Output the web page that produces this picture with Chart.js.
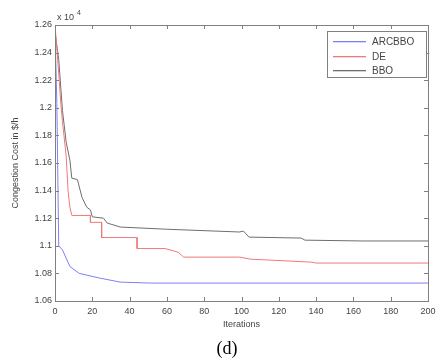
<!DOCTYPE html>
<html>
<head>
<meta charset="utf-8">
<script src="https://cdn.jsdelivr.net/npm/chart.js@4/dist/chart.umd.min.js"></script>
<style>
  html, body { margin: 0; padding: 0; background: #fff; }
  canvas { display: block; }
</style>
</head>
<body>
<canvas id="costChart" width="441" height="364"></canvas>
<script>
// values, cost in units of 10^4 $/h
const arcIter = [0, 1, 2, 4, 8, 13, 24, 35, 51, 200];
const arcCost = [1.255, 1.203, 1.100, 1.097, 1.085, 1.080, 1.0766, 1.0737, 1.073, 1.073];

const deIter = [0, 2, 3, 4, 6, 7, 8, 9, 19, 19, 25, 25, 44, 44, 59, 66, 69, 99, 105, 137, 140, 200];
const deCost = [1.26, 1.225, 1.205, 1.19, 1.165, 1.14, 1.128, 1.122, 1.122, 1.117, 1.117, 1.106, 1.106, 1.098, 1.098, 1.0954, 1.0918, 1.0918, 1.0903, 1.0882, 1.0875, 1.0875];

const bboIter = [0, 2, 4, 6, 8, 9, 12, 14.5, 17, 19, 20, 26, 28, 35, 60, 99, 101, 104, 132, 134, 165, 200];
const bboCost = [1.255, 1.235, 1.198, 1.175, 1.162, 1.149, 1.148, 1.135, 1.128, 1.126, 1.121, 1.120, 1.1165, 1.1136, 1.112, 1.110, 1.1107, 1.1063, 1.1056, 1.1041, 1.1035, 1.1035];

const seriesNames = ['ARCBBO', 'DE', 'BBO'];
const seriesColors = ['#7f7ff0', '#ee7a7a', '#6e6e6e'];

function toPoints(xs, ys) {
    return xs.map((x, i) => ({ x: x, y: ys[i] }));
}

const axisColor = '#808080';
const labelColor = '#444';

// box, inward ticks, legend and extra texts, MATLAB style
const matlabFrame = {
    id: 'matlabFrame',
    afterDraw(chart) {
        const ctx = chart.ctx;
        const area = chart.chartArea;
        const xs = chart.scales.x;
        const ys = chart.scales.y;
        ctx.save();
        ctx.strokeStyle = axisColor;
        ctx.lineWidth = 1;
        ctx.strokeRect(Math.round(area.left) + 0.5, Math.round(area.top) + 0.5,
            Math.round(area.right - area.left), Math.round(area.bottom - area.top));

        const tl = 4;
        ctx.beginPath();
        xs.ticks.forEach(t => {
            const px = Math.round(xs.getPixelForValue(t.value)) + 0.5;
            ctx.moveTo(px, area.bottom); ctx.lineTo(px, area.bottom - tl);
            ctx.moveTo(px, area.top); ctx.lineTo(px, area.top + tl);
        });
        ys.ticks.forEach(t => {
            const py = Math.round(ys.getPixelForValue(t.value)) + 0.5;
            ctx.moveTo(area.left, py); ctx.lineTo(area.left + tl, py);
            ctx.moveTo(area.right, py); ctx.lineTo(area.right - tl, py);
        });
        ctx.stroke();

        // exponent note
        ctx.fillStyle = labelColor;
        ctx.font = '9px Arial, "Liberation Sans", sans-serif';
        ctx.textAlign = 'left';
        ctx.textBaseline = 'alphabetic';
        ctx.fillText('x 10', area.left + 2, area.top - 5);
        ctx.font = '7px Arial, "Liberation Sans", sans-serif';
        ctx.fillText('4', area.left + 22, area.top - 10);

        // axis titles
        ctx.font = '9px Arial, "Liberation Sans", sans-serif';
        ctx.textAlign = 'center';
        ctx.textBaseline = 'middle';
        ctx.fillText('Iterations', (area.left + area.right) / 2, 325);
        ctx.save();
        ctx.translate(16, (area.top + area.bottom) / 2);
        ctx.rotate(-Math.PI / 2);
        ctx.fillText('Congestion Cost in $/h', 0, 0);
        ctx.restore();

        // panel label
        ctx.fillStyle = '#000';
        ctx.font = '18px "Liberation Serif", "DejaVu Serif", serif';
        ctx.fillText('(d)', 227, 349);

        // legend box
        const lx = 327, ly = 31, lw = 99, lh = 46;
        ctx.fillStyle = '#fff';
        ctx.fillRect(lx, ly, lw, lh);
        ctx.strokeStyle = axisColor;
        ctx.strokeRect(lx + 0.5, ly + 0.5, lw, lh);
        ctx.font = '10px Arial, "Liberation Sans", sans-serif';
        ctx.textAlign = 'left';
        seriesNames.forEach((name, i) => {
            const rowY = Math.round(ly + 10 + i * 14.5);
            ctx.fillStyle = seriesColors[i];
            ctx.fillRect(333, rowY, 33, 1.3);
            ctx.fillStyle = labelColor;
            ctx.fillText(name, 372, rowY + 1);
        });
        ctx.restore();
    }
};

const ctx = document.getElementById('costChart').getContext('2d');
new Chart(ctx, {
    type: 'line',
    data: {
        datasets: [
            { label: seriesNames[0], data: toPoints(arcIter, arcCost), borderColor: seriesColors[0] },
            { label: seriesNames[1], data: toPoints(deIter, deCost), borderColor: seriesColors[1] },
            { label: seriesNames[2], data: toPoints(bboIter, bboCost), borderColor: seriesColors[2] }
        ]
    },
    options: {
        responsive: false,
        animation: false,
        layout: { padding: { top: 25, right: 13, left: 0, bottom: 0 } },
        elements: {
            line: { borderWidth: 1, tension: 0, fill: false },
            point: { radius: 0 }
        },
        plugins: {
            legend: { display: false },
            tooltip: { enabled: false }
        },
        scales: {
            x: {
                type: 'linear',
                min: 0,
                max: 200,
                grid: { display: false, drawTicks: false },
                border: { display: false },
                ticks: {
                    stepSize: 20,
                    padding: 5,
                    color: labelColor,
                    font: { family: 'Arial, "Liberation Sans", sans-serif', size: 9 },
                    maxRotation: 0
                },
                afterFit(scale) { scale.height = 63; }
            },
            y: {
                min: 1.06,
                max: 1.26,
                grid: { display: false, drawTicks: false },
                border: { display: false },
                ticks: {
                    stepSize: 0.02,
                    padding: 3,
                    color: labelColor,
                    font: { family: 'Arial, "Liberation Sans", sans-serif', size: 9 },
                    callback: v => String(parseFloat(v.toFixed(2)))
                },
                afterFit(scale) { scale.width = 55; }
            }
        }
    },
    plugins: [matlabFrame]
});
</script>
</body>
</html>
